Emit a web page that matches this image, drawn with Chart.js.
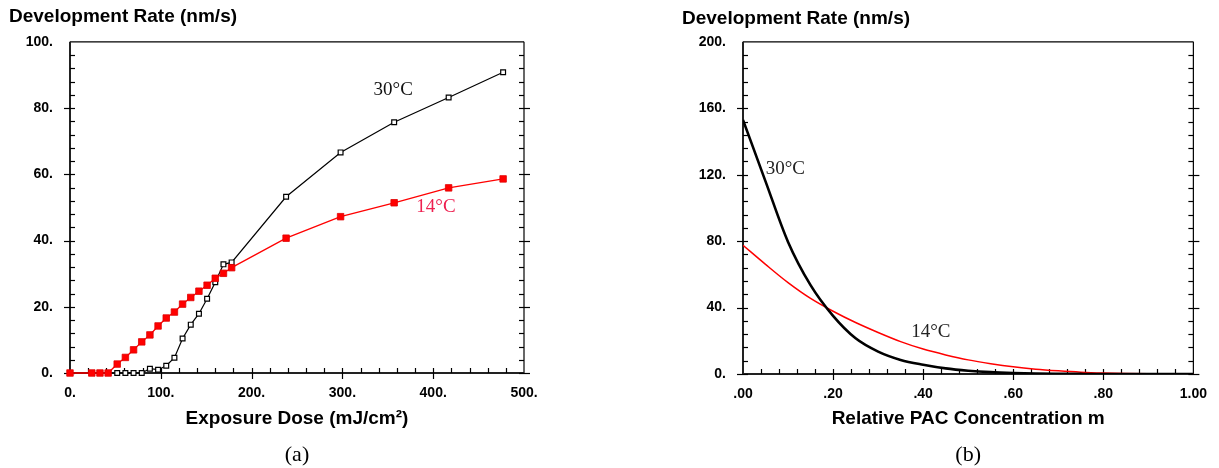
<!DOCTYPE html>
<html>
<head>
  <title>Development Rate</title>
  <script src="https://cdn.jsdelivr.net/npm/chart.js"></script>
  <style>
    body { margin: 0; background: #fff; }
    .panel { position: absolute; top: 0; width: 610px; height: 468px; }
    #panel-a { left: 0; }
    #panel-b { left: 609px; }
  </style>
</head>
<body>
  <div class="panel" id="panel-a"><canvas id="rate-vs-dose" width="610" height="468"></canvas></div>
  <div class="panel" id="panel-b"><canvas id="rate-vs-pac" width="610" height="468"></canvas></div>

  <script>
    // (a) development rate vs exposure dose
    const doses  = [0, 24, 33, 42, 52, 61, 70, 79, 88, 97, 106, 115, 124, 133, 142, 151, 160, 169, 178, 238, 298, 357, 417, 477];
    const rate30 = [0, 0, 0, 0, 0, 0, 0, 0, 1.3, 1.0, 2.2, 4.6, 10.4, 14.6, 17.9, 22.4, 27.4, 32.8, 33.4, 53.2, 66.6, 75.7, 83.2, 90.8];
    const rate14 = [0, 0, 0, 0, 2.7, 4.7, 7.0, 9.4, 11.5, 14.2, 16.6, 18.4, 20.8, 22.8, 24.7, 26.5, 28.6, 30.1, 31.8, 40.7, 47.2, 51.4, 55.9, 58.6];

    // (b) development rate vs relative PAC concentration m
    const pacM   = [0, .05, .10, .15, .20, .25, .30, .35, .40, .45, .50, .55, .60, .65, .70, .75, .80, .85, .90, .95, 1.00];
    const pac30  = [153, 116, 79.5, 53.5, 35, 21.5, 13.5, 8.5, 5.6, 3.4, 2.0, 1.1, 0.6, 0.3, 0.15, 0.05, 0, 0, 0, 0, 0];
    const pac14  = [77.5, 66, 55, 45.5, 37.8, 31, 25, 19.5, 15, 11.5, 8.5, 6.2, 4.3, 2.9, 1.9, 1.1, 0.6, 0.3, 0.1, 0, 0];

    // tick values and labels
    const doseTicks   = [0, 100, 200, 300, 400, 500];
    const doseLabels  = ['0.', '100.', '200.', '300.', '400.', '500.'];
    const rateTicksA  = [0, 20, 40, 60, 80, 100];
    const rateLabelsA = ['0.', '20.', '40.', '60.', '80.', '100.'];
    const pacTicks    = [0, .2, .4, .6, .8, 1];
    const pacLabels   = ['.00', '.20', '.40', '.60', '.80', '1.00'];
    const rateTicksB  = [0, 40, 80, 120, 160, 200];
    const rateLabelsB = ['0.', '40.', '80.', '120.', '160.', '200.'];

    const SANS = "'Liberation Sans', Arial, sans-serif";
    const SERIF = "'Liberation Serif', 'Times New Roman', serif";

    // box with inward minor ticks and crossing major ticks
    const frameTicks = {
      id: 'frameTicks',
      beforeDatasetsDraw(chart, args, opts) {
        const {ctx, chartArea: a, scales: {x, y}} = chart;
        const seg = (x1, y1, x2, y2) => { ctx.beginPath(); ctx.moveTo(x1, y1); ctx.lineTo(x2, y2); ctx.stroke(); };
        const isMajor = (v, step) => Math.abs(v / step - Math.round(v / step)) < 1e-6;
        ctx.save();
        ctx.strokeStyle = '#000';
        ctx.lineWidth = 1.2;
        seg(a.left, a.top, a.right, a.top);
        seg(a.right, a.top, a.right, a.bottom);
        ctx.strokeStyle = '#222';
        ctx.lineWidth = 2;
        seg(a.left, a.top, a.left, a.bottom + 1);
        seg(a.left - 1, a.bottom, a.right, a.bottom);
        ctx.lineWidth = 1.2;
        ctx.strokeStyle = '#000';
        const ny = Math.round((y.max - y.min) / opts.yMinor);
        for (let i = 0; i < ny; i++) {
          const v = y.min + i * opts.yMinor;
          const py = Math.round(y.getPixelForValue(v)) + 0.5;
          if (isMajor(v, opts.yMajor)) {
            seg(a.left - 6, py, a.left + 5, py);
            seg(a.right - 5, py, a.right + 6, py);
          } else {
            seg(a.left, py, a.left + 5, py);
            seg(a.right - 5, py, a.right, py);
          }
        }
        const nx = Math.round((x.max - x.min) / opts.xMinor);
        for (let i = 1; i < nx; i++) {
          const v = x.min + i * opts.xMinor;
          const px = Math.round(x.getPixelForValue(v)) + 0.5;
          if (isMajor(v, opts.xMajor)) {
            seg(px, a.bottom + 6, px, a.bottom - 5);
          } else {
            seg(px, a.bottom, px, a.bottom - 5);
          }
        }
        ctx.restore();
      }
    };

    // temperature labels next to the curves
    const curveLabels = {
      id: 'curveLabels',
      afterDatasetsDraw(chart, args, opts) {
        const {ctx, scales: {x, y}} = chart;
        ctx.save();
        ctx.font = '19px ' + SERIF;
        ctx.textAlign = 'center';
        ctx.textBaseline = 'middle';
        opts.items.forEach(l => {
          ctx.fillStyle = l.color;
          ctx.fillText(l.text, x.getPixelForValue(l.x), y.getPixelForValue(l.y));
        });
        ctx.restore();
      }
    };

    function axis(values, min, max, extra) {
      return Object.assign({
        type: 'linear',
        min: min,
        max: max,
        grid: { display: false, drawTicks: false },
        border: { display: false },
        afterBuildTicks: s => { s.ticks = values.map(v => ({ value: v })); }
      }, extra);
    }

    function tickFont(labels, pad) {
      return {
        color: '#000',
        padding: pad,
        maxRotation: 0,
        font: { family: SANS, size: 14, weight: 'bold' },
        callback: (v, i) => labels[i]
      };
    }

    function panelOptions(cfg) {
      return {
        responsive: false,
        animation: false,
        events: [],
        layout: { padding: { left: cfg.padLeft, right: cfg.padRight, top: 0, bottom: 0 } },
        plugins: {
          legend: { display: false },
          tooltip: { enabled: false },
          title: {
            display: true,
            text: 'Development Rate (nm/s)',
            align: 'start',
            color: '#000',
            font: { family: SANS, size: 19, weight: 'bold' },
            padding: { top: cfg.titleTop, bottom: cfg.titleBottom }
          },
          subtitle: {
            display: true,
            position: 'bottom',
            fullSize: false,
            text: cfg.caption,
            color: '#000',
            font: { family: SERIF, size: 22, weight: 'normal' },
            padding: { top: 0, bottom: 0 }
          },
          frameTicks: cfg.ticks,
          curveLabels: { items: cfg.labels }
        },
        scales: {
          x: axis(cfg.xTicks, cfg.xMin, cfg.xMax, {
            afterFit: s => { s.height = cfg.xHeight; },
            title: {
              display: true,
              text: cfg.xTitle,
              color: '#000',
              font: { family: SANS, size: 19, weight: 'bold' },
              padding: { top: 0, bottom: 11 }
            },
            ticks: tickFont(cfg.xLabels, 12)
          }),
          y: axis(cfg.yTicks, cfg.yMin, cfg.yMax, {
            afterFit: s => { s.width = cfg.yWidth; },
            ticks: tickFont(cfg.yLabels, 17)
          })
        }
      };
    }

    const pts = (xs, ys) => xs.map((v, i) => ({ x: v, y: ys[i] }));

    new Chart(document.getElementById('rate-vs-dose').getContext('2d'), {
      type: 'line',
      data: {
        datasets: [{
          label: '14°C',
          data: pts(doses, rate14),
          borderColor: '#ff0000',
          borderWidth: 1.3,
          backgroundColor: '#ff0000',
          pointStyle: 'rect',
          pointRadius: 4.6,
          pointBorderColor: '#e00000',
          pointBorderWidth: 0.8,
          clip: false,
          order: 0
        }, {
          label: '30°C',
          data: pts(doses, rate30),
          borderColor: '#000',
          borderWidth: 1.2,
          backgroundColor: '#fff',
          pointStyle: 'rect',
          pointRadius: 3.4,
          pointBorderColor: '#000',
          pointBorderWidth: 1.2,
          clip: false,
          order: 1
        }]
      },
      options: panelOptions({
        padLeft: 9, padRight: 86, yWidth: 61, xHeight: 68.6,
        titleTop: 5, titleBottom: 14,
        caption: '(a)',
        xTitle: 'Exposure Dose (mJ/cm²)',
        xTicks: doseTicks, xLabels: doseLabels, xMin: 0, xMax: 500,
        yTicks: rateTicksA, yLabels: rateLabelsA, yMin: 0, yMax: 100,
        ticks: { xMinor: 20, xMajor: 100, yMinor: 4, yMajor: 20 },
        labels: [
          { text: '30°C', x: 356, y: 85.3, color: '#111' },
          { text: '14°C', x: 403, y: 50.2, color: '#ee2050' }
        ]
      }),
      plugins: [frameTicks, curveLabels]
    });

    new Chart(document.getElementById('rate-vs-pac').getContext('2d'), {
      type: 'line',
      data: {
        datasets: [{
          label: '30°C',
          data: pts(pacM, pac30),
          borderColor: '#000',
          borderWidth: 2.6,
          pointRadius: 0,
          cubicInterpolationMode: 'monotone',
          order: 0
        }, {
          label: '14°C',
          data: pts(pacM, pac14),
          borderColor: '#ff0000',
          borderWidth: 1.5,
          pointRadius: 0,
          cubicInterpolationMode: 'monotone',
          order: 1
        }]
      },
      options: panelOptions({
        padLeft: 73, padRight: 22, yWidth: 61, xHeight: 67.6,
        titleTop: 7, titleBottom: 12,
        caption: '(b)',
        xTitle: 'Relative PAC Concentration m',
        xTicks: pacTicks, xLabels: pacLabels, xMin: 0, xMax: 1,
        yTicks: rateTicksB, yLabels: rateLabelsB, yMin: 0, yMax: 200,
        ticks: { xMinor: 0.04, xMajor: 0.2, yMinor: 8, yMajor: 40 },
        labels: [
          { text: '30°C', x: 0.094, y: 123.5, color: '#222' },
          { text: '14°C', x: 0.417, y: 25.4, color: '#222' }
        ]
      }),
      plugins: [frameTicks, curveLabels]
    });
  </script>
</body>
</html>
